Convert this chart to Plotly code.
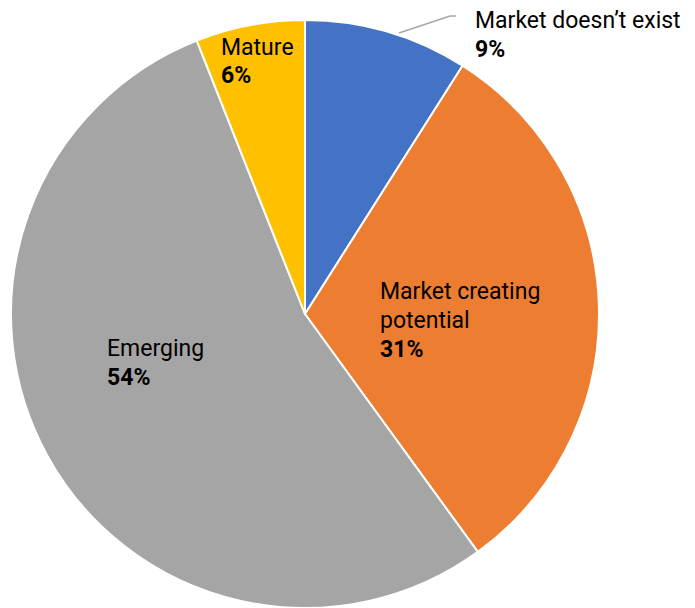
import plotly.graph_objects as go

labels = ["Market doesn't exist", "Market creating potential", "Emerging", "Mature"]
values = [9, 31, 54, 6]
colors = ["#4472C4", "#ED7D31", "#A5A5A5", "#FFC000"]

label_lines = [
    (["Market doesn\u2019t exist"], "9%"),
    (["Market creating", "potential"], "31%"),
    (["Emerging"], "54%"),
    (["Mature"], "6%"),
]
# reference pixel positions of first line (left x, center y)
label_pos = [(475, 20), (380, 291), (107, 348), (221, 47)]

W, H = 695, 608
OFF = 8  # page body margin
LINE = 29
FONT = "Roboto"
FS = 23

cx, cy, r = 305 - OFF, 314 - OFF, 294

fig = go.Figure()
fig.add_trace(go.Pie(
    labels=labels, values=values, sort=False, direction="clockwise", rotation=0,
    marker=dict(colors=colors, line=dict(color="white", width=2)),
    textinfo="none", hoverinfo="label+percent", showlegend=False,
    domain=dict(x=[(cx - r) / W, (cx + r) / W], y=[(H - cy - r) / H, (H - cy + r) / H]),
))

annotations = []
for (names, pct), (lx, ly) in zip(label_lines, label_pos):
    lines = [(n, False) for n in names] + [(pct, True)]
    for i, (t, bold) in enumerate(lines):
        annotations.append(dict(
            x=(lx - OFF - 2) / W, y=1 - (ly - OFF + i * LINE) / H, xref="paper", yref="paper",
            text=f"<b>{t}</b>" if bold else t, showarrow=False,
            xanchor="left", yanchor="middle",
            font=dict(family=FONT, size=FS, color="#000000"),
        ))

def px(x):
    return (x - OFF) / W

def py(y):
    return 1 - (y - OFF) / H

fig.update_layout(
    width=W, height=H, margin=dict(l=0, r=0, t=0, b=0),
    paper_bgcolor="white", plot_bgcolor="white",
    annotations=annotations,
    shapes=[dict(type="path", xref="paper", yref="paper",
                 path=f"M {px(399)} {py(33)} L {px(450)} {py(16)} L {px(456)} {py(16)}",
                 line=dict(color="#A6A6A6", width=1.5))],
)
fig.write_html("out.html")
